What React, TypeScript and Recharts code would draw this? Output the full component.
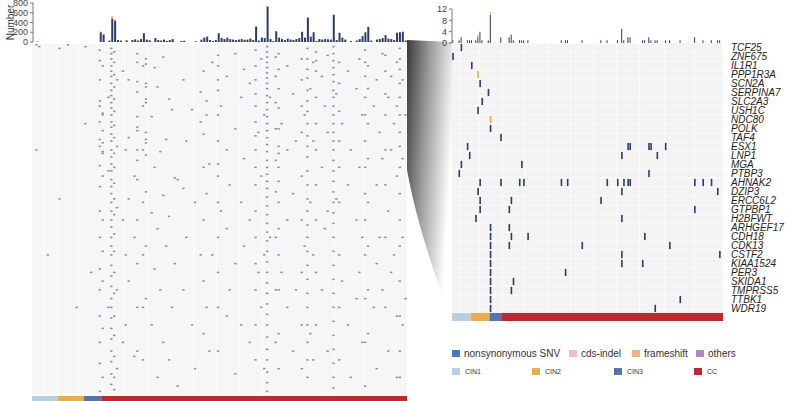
import React from 'react';
import { BarChart, Bar, XAxis, YAxis, ScatterChart, Scatter, CartesianGrid } from 'recharts';

const SAMPLE_COUNT = 130;
const LEFT_ROWS = 200;

const groups = ['CIN1', 'CIN2', 'CIN3', 'CC'];
const groupSizes = [9, 9, 6, 106];
const groupColors = ['#b7cfe0', '#e9ae45', '#5673b3', '#c1272d'];

const mutationTypes = ['nonsynonymous SNV', 'cds-indel', 'frameshift', 'others'];
const mutationColors = ['#3b7bc2', '#f5b9c9', '#f5b27c', '#a98bc9'];

const SNV_COLOR = '#2c3a6b';
const FS_COLOR = '#f0ab3c';

const leftTicks = [0, 200, 400, 600, 800];
const rightTicks = [0, 4, 8, 12];

// mutations per sample, all genes
const leftSnv = [
  0, 8, 0, 0, 0, 0, 0, 0, 0, 0,
  0, 0, 0, 0, 0, 0, 0, 0, 0, 0,
  0, 0, 0, 200, 155, 0, 30, 480, 435, 40,
  30, 0, 35, 0, 40, 55, 30, 60, 180, 50,
  35, 0, 80, 40, 30, 50, 20, 40, 60, 0,
  0, 20, 25, 0, 0, 0, 15, 0, 50, 90,
  110, 40, 20, 40, 180, 80, 60, 90, 60, 50,
  40, 50, 60, 45, 50, 70, 40, 320, 30, 90,
  80, 730, 60, 20, 220, 90, 60, 40, 70, 50,
  40, 60, 80, 210, 90, 500, 110, 200, 20, 60,
  50, 60, 55, 50, 560, 40, 190, 90, 50, 0,
  20, 0, 30, 60, 120, 200, 310, 30, 0, 50,
  60, 80, 140, 70, 60, 40, 190, 200, 210, 30,
];
const leftFrameshift: Record<number, number> = { 23: 15, 27: 45, 28: 30 };

// mutations per sample, 30 selected genes
const rightSnv = [
  1, 0, 0, 1, 2, 0, 0, 1, 1, 1,
  0, 1, 2, 4, 1, 0, 0, 1, 10, 0,
  0, 0, 0, 2, 0, 0, 0, 2, 3, 1,
  0, 0, 1, 1, 1, 0, 1, 0, 0, 0,
  0, 0, 0, 0, 0, 0, 0, 0, 0, 0,
  0, 0, 1, 0, 1, 1, 0, 0, 0, 0,
  0, 0, 1, 0, 0, 0, 0, 0, 0, 0,
  0, 1, 0, 0, 1, 0, 0, 0, 0, 1,
  0, 5, 1, 0, 2, 2, 0, 0, 0, 0,
  0, 1, 1, 0, 2, 1, 0, 1, 1, 0,
  0, 0, 1, 0, 1, 0, 0, 0, 0, 1,
  0, 0, 0, 0, 0, 0, 2, 0, 0, 0,
  1, 0, 0, 0, 1, 0, 0, 1, 1, 0,
];
const rightFrameshift: Record<number, number> = { 12: 1, 18: 1 };

const genes = [
  'TCF25', 'ZNF675', 'IL1R1', 'PPP1R3A', 'SCN2A', 'SERPINA7', 'SLC2A3', 'USH1C',
  'NDC80', 'POLK', 'TAF4', 'ESX1', 'LNP1', 'MGA', 'PTBP3', 'AHNAK2', 'DZIP3',
  'ERCC6L2', 'GTPBP1', 'H2BFWT', 'ARHGEF17', 'CDH18', 'CDK13', 'CSTF2',
  'KIAA1524', 'PER3', 'SKIDA1', 'TMPRSS5', 'TTBK1', 'WDR19',
];

// samples carrying a nonsynonymous SNV, one list per gene
const geneSnv: number[][] = [
  [4], [0], [9], [], [13], [17], [14], [12], [], [18], [23],
  [7, 84, 85, 94, 95, 102],
  [8, 81, 98],
  [4, 33],
  [3, 94],
  [13, 23, 32, 34, 52, 55, 74, 79, 82, 84, 85, 116, 120, 124],
  [12, 81, 127],
  [13, 28, 71],
  [13, 27, 116],
  [11, 81],
  [18, 27],
  [18, 28, 36, 92],
  [18, 27, 62, 104],
  [18, 81, 128],
  [18, 81, 91],
  [18, 54],
  [18, 29],
  [18, 28],
  [18, 109],
  [18, 97],
];
const geneFs: Record<string, number[]> = { PPP1R3A: [12], NDC80: [18] };

// all-gene overview: sample -> mutated rows
const leftMarks: [number, number[]][] = [
  [1, [0, 60]], [2, [1]], [5, [120]], [9, [2, 88]], [12, [0]], [15, [150]],
  [18, [1, 45]], [20, [130]],
  [23, [3, 9, 20, 32, 35, 44, 54, 58, 69, 81, 95, 110, 128, 140, 155, 170, 182, 198]],
  [24, [12, 39, 40, 49, 56, 61, 62, 75, 100, 118, 135, 162, 190]],
  [26, [30, 72, 150]],
  [27, [2, 5, 8, 12, 15, 18, 22, 26, 29, 33, 36, 40, 44, 47, 51, 55, 60, 64, 68, 72, 77, 81, 85, 90, 95, 100, 104, 110, 115, 120, 126, 132, 138, 145, 150, 156, 162, 168, 175, 181, 188, 194]],
  [28, [4, 10, 17, 24, 31, 38, 46, 53, 62, 70, 79, 88, 97, 108, 118, 130, 142, 155, 166, 178, 190, 197]],
  [29, [20, 58, 93, 140, 185]],
  [31, [15, 100, 170]], [32, [60, 120, 160]], [33, [20, 53, 88, 135]], [35, [75, 110, 178]],
  [36, [5, 10, 21, 27, 41, 47, 49, 60, 66, 77, 100, 125, 150, 175]],
  [38, [12, 35, 60, 90, 120, 150, 180]],
  [39, [8, 11, 22, 24, 31, 33, 50, 54, 56, 63, 84, 115, 145]],
  [41, [41, 96, 160]], [42, [13, 70, 128]], [43, [24, 105, 190]], [44, [61, 140]],
  [45, [7, 86, 170]], [46, [54, 115]], [47, [31, 98, 180]], [48, [37, 150]],
  [49, [76, 125]], [50, [77, 195]], [52, [20, 82, 140]], [53, [55, 110]],
  [55, [37, 160]], [56, [90, 185]], [58, [27, 44, 120]],
  [59, [15, 51, 70, 100, 135, 165]], [60, [32, 40, 85, 150]], [61, [68, 175]], [62, [10, 120]],
  [64, [6, 12, 20, 26, 40, 55, 68, 75, 90, 110, 130, 150, 175]],
  [65, [35, 95]], [67, [18, 60, 105, 155]], [68, [80, 140]], [70, [5, 48, 125, 188]],
  [72, [30, 90, 160]], [73, [14, 65, 115]], [75, [22, 100, 170]],
  [77, [3, 12, 20, 28, 35, 44, 52, 60, 70, 80, 95, 110, 125, 140, 160, 180]],
  [78, [50, 130]], [79, [8, 75, 150]], [80, [40, 120, 185]],
  [81, [1, 4, 7, 10, 13, 16, 19, 22, 25, 29, 33, 37, 41, 45, 49, 53, 57, 61, 66, 70, 74, 78, 82, 87, 92, 97, 102, 107, 112, 118, 124, 130, 136, 142, 148, 154, 160, 167, 174, 180, 187, 193, 198]],
  [82, [30, 110]],
  [84, [7, 18, 33, 48, 66, 84, 110, 140, 170]],
  [85, [5, 14, 25, 36, 48, 58, 62, 70, 78, 90, 105, 120, 140, 165, 185]],
  [86, [45, 130]], [88, [12, 60, 100, 150]], [90, [28, 85, 175]], [91, [55, 140]],
  [93, [8, 20, 35, 50, 75, 100, 130, 160, 185]],
  [94, [40, 115]],
  [95, [2, 8, 14, 19, 26, 32, 38, 45, 52, 58, 64, 72, 80, 88, 95, 103, 110, 118, 126, 134, 142, 150, 160, 170, 180, 190]],
  [96, [25, 90, 165]], [97, [10, 55, 120, 180]],
  [98, [4, 9, 15, 30, 45, 60, 80, 100, 130, 160]],
  [100, [18, 70, 140]], [101, [35, 105]], [102, [6, 50, 95, 175]],
  [104, [1, 5, 9, 13, 17, 21, 26, 30, 35, 40, 45, 50, 55, 60, 66, 72, 78, 84, 90, 96, 102, 110, 118, 126, 134, 142, 150, 158, 166, 174, 182, 190, 196]],
  [105, [28, 88]],
  [106, [10, 22, 38, 55, 70, 90, 120, 150, 180]],
  [107, [45, 135]], [109, [15, 80, 160]], [110, [60, 190]], [112, [25, 100, 145]],
  [113, [8, 70, 130]], [114, [40, 110, 170]],
  [115, [3, 10, 18, 30, 40, 55, 70, 85, 100, 120, 145, 170, 195]],
  [116, [12, 25, 45, 65, 90, 115, 140, 165]],
  [118, [35, 150]], [119, [20, 80, 125, 185]], [120, [50, 110]], [121, [5, 65, 140]],
  [122, [6, 15, 28, 40, 60, 80, 110, 150]],
  [123, [30, 95, 175]], [124, [18, 60, 130]], [125, [45, 120]], [126, [10, 35, 75, 155, 190]],
  [127, [2, 8, 14, 22, 30, 40, 50, 58, 70, 85, 100, 115, 135, 155, 175, 190]],
  [128, [20, 65, 110, 160]], [129, [40, 145]],
];

const leftBarData = leftSnv.map((v, i) => ({ s: i, snv: v, fs: leftFrameshift[i] || 0 }));
const rightBarData = rightSnv.map((v, i) => ({ s: i, snv: v, fs: rightFrameshift[i] || 0 }));

const leftPoints = leftMarks.flatMap(([s, rows]) => rows.map((r) => ({ x: s + 0.5, y: r + 0.5 })));
const rightPoints = genes.flatMap((g, gi) => [
  ...geneSnv[gi].map((s) => ({ x: s + 0.5, y: gi + 0.5, fs: false })),
  ...(geneFs[g] || []).map((s) => ({ x: s + 0.5, y: gi + 0.5, fs: true })),
]);

const sampleEdges = Array.from({ length: SAMPLE_COUNT + 1 }, (_, i) => i);
const geneEdges = Array.from({ length: genes.length + 1 }, (_, i) => i);
const geneCenters = genes.map((_, i) => i + 0.5);

const groupRow: Record<string, number | string> = { name: 'group' };
groups.forEach((g, i) => { groupRow[g] = groupSizes[i]; });

const LeftMark = (props: any) => (
  <rect x={props.cx - 1.2} y={props.cy - 0.75} width={2.4} height={1.5} fill="#8488bb" />
);

const RightMark = (props: any) => (
  <rect x={props.cx - 0.8} y={props.cy - 3.6} width={1.6} height={7.2} fill={props.payload.fs ? FS_COLOR : SNV_COLOR} />
);

function GroupBar({ width, height }: { width: number; height: number }) {
  return (
    <BarChart width={width} height={height} data={[groupRow]} layout="vertical" margin={{ top: 0, right: 0, bottom: 0, left: 0 }} barCategoryGap={0}>
      <XAxis type="number" domain={[0, SAMPLE_COUNT]} hide />
      <YAxis type="category" dataKey="name" hide />
      {groups.map((g, i) => (
        <Bar key={g} dataKey={g} stackId="g" fill={groupColors[i]} isAnimationActive={false} />
      ))}
    </BarChart>
  );
}

const axisTick = { fontSize: 9, fill: '#444' };

export default function App() {
  return (
    <div style={{ position: 'absolute', left: 0, top: 0, width: 788, height: 401, background: '#fff', fontFamily: '"Liberation Sans", Arial, sans-serif', overflow: 'hidden' }}>
      <svg width={788} height={401} style={{ position: 'absolute', left: 0, top: 0 }}>
        <defs>
          <linearGradient id="zoomShade" x1="0" y1="0" x2="1" y2="0.4">
            <stop offset="0" stopColor="#3a3a3a" />
            <stop offset="0.45" stopColor="#9a9a9a" />
            <stop offset="1" stopColor="#ffffff" />
          </linearGradient>
        </defs>
        <path d="M407,40 L452,42 L452,320 C440,290 418,230 407,170 Z" fill="url(#zoomShade)" />
      </svg>

      <div style={{ position: 'absolute', left: 0, top: 0 }}>
        <BarChart width={410} height={45} data={leftBarData} margin={{ top: 3, right: 3, bottom: 3, left: 0 }} barCategoryGap="20%">
          <XAxis dataKey="s" hide />
          <YAxis width={33} domain={[0, 800]} ticks={leftTicks} interval={0} tick={axisTick} tickSize={3} stroke="#777"
            label={{ value: 'Number', angle: -90, position: 'insideLeft', offset: 10, style: { fontSize: 10, fill: '#333', textAnchor: 'middle' } }} />
          <Bar dataKey="snv" stackId="a" fill={SNV_COLOR} isAnimationActive={false} />
          <Bar dataKey="fs" stackId="a" fill={FS_COLOR} isAnimationActive={false} />
        </BarChart>
      </div>

      <div style={{ position: 'absolute', left: 32, top: 44 }}>
        <ScatterChart width={375} height={350} margin={{ top: 0, right: 0, bottom: 0, left: 0 }}>
          <CartesianGrid horizontal={false} verticalValues={sampleEdges} fill="#f6f6f6" stroke="#ffffff" strokeWidth={0.7} />
          <XAxis type="number" dataKey="x" domain={[0, SAMPLE_COUNT]} hide />
          <YAxis type="number" dataKey="y" domain={[0, LEFT_ROWS]} reversed hide />
          <Scatter data={leftPoints} shape={LeftMark} isAnimationActive={false} />
        </ScatterChart>
      </div>

      <div style={{ position: 'absolute', left: 32, top: 396 }}>
        <GroupBar width={375} height={5} />
      </div>

      <div style={{ position: 'absolute', left: 419, top: 0 }}>
        <BarChart width={307} height={46} data={rightBarData} margin={{ top: 9, right: 3, bottom: 3, left: 0 }} barCategoryGap="15%">
          <XAxis dataKey="s" hide />
          <YAxis width={33} domain={[0, 12]} ticks={rightTicks} interval={0} tick={axisTick} tickSize={3} stroke="#777" />
          <Bar dataKey="snv" stackId="a" fill={SNV_COLOR} isAnimationActive={false} />
          <Bar dataKey="fs" stackId="a" fill={FS_COLOR} isAnimationActive={false} />
        </BarChart>
      </div>

      <div style={{ position: 'absolute', left: 452, top: 43 }}>
        <ScatterChart width={336} height={270} margin={{ top: 0, right: 0, bottom: 0, left: 0 }}>
          <CartesianGrid verticalValues={sampleEdges} horizontalValues={geneEdges} fill="#f3f3f3" stroke="#ffffff" strokeWidth={0.7} />
          <XAxis type="number" dataKey="x" domain={[0, SAMPLE_COUNT]} hide />
          <YAxis type="number" dataKey="y" domain={[0, genes.length]} reversed orientation="right" width={65}
            ticks={geneCenters} interval={0} tickLine={false} axisLine={false}
            tickFormatter={(v: number) => genes[Math.floor(v)]}
            tick={{ fontSize: 10, fontStyle: 'italic', fill: '#222', textAnchor: 'start' }} />
          <Scatter data={rightPoints} shape={RightMark} isAnimationActive={false} />
        </ScatterChart>
      </div>

      <div style={{ position: 'absolute', left: 452, top: 313 }}>
        <GroupBar width={271} height={8} />
      </div>

      {mutationTypes.map((m, i) => (
        <div key={m} style={{ position: 'absolute', left: [452, 569, 632, 696][i], top: 348, display: 'flex', alignItems: 'center', fontSize: 10, color: '#333' }}>
          <span style={{ display: 'inline-block', width: 8, height: 7, background: mutationColors[i], marginRight: 4 }} />
          {m}
        </div>
      ))}
      {groups.map((g, i) => (
        <div key={g} style={{ position: 'absolute', left: [452, 532, 614, 694][i], top: 368, display: 'flex', alignItems: 'center', fontSize: 7, color: '#333' }}>
          <span style={{ display: 'inline-block', width: 8, height: 7, background: groupColors[i], marginRight: 5 }} />
          {g}
        </div>
      ))}
    </div>
  );
}
